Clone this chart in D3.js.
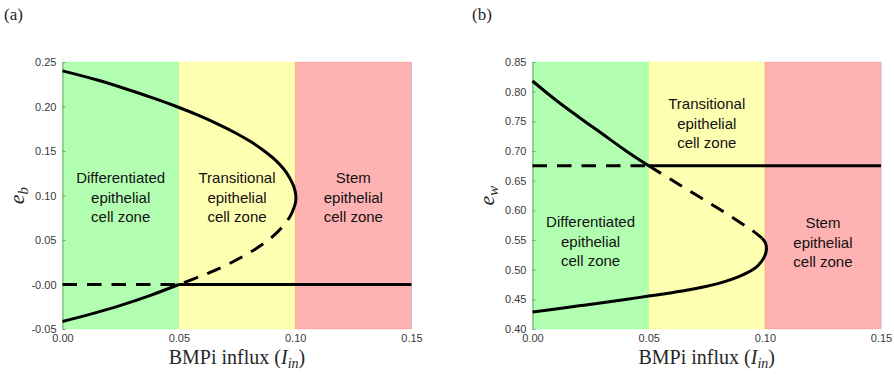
<!DOCTYPE html>
<html>
<head>
<meta charset="utf-8">
<script src="https://cdn.jsdelivr.net/npm/d3@7"></script>
<style>
  html, body { margin: 0; padding: 0; background: #fff; }
  svg { display: block; }
</style>
</head>
<body>
<script>
// BMPi influx values bounding the three cell zones
const zoneBounds = [0, 0.05, 0.10, 0.15];
const zoneNames = [
  ["Differentiated", "epithelial", "cell zone"],
  ["Transitional", "epithelial", "cell zone"],
  ["Stem", "epithelial", "cell zone"]
];

// shared x axis
const influxTicks = [0, 0.05, 0.10, 0.15];
const influxTickLabels = ["0.00", "0.05", "0.10", "0.15"];

// panel (a): e_b steady states, points are [I_in, e_b]
const ebTicks = [-0.05, 0, 0.05, 0.10, 0.15, 0.20, 0.25];
const ebTickLabels = ["-0.05", "-0.00", "0.05", "0.10", "0.15", "0.20", "0.25"];
const ebUpperStable = [[0, 0.240], [0.0146, 0.230], [0.027, 0.220], [0.0385, 0.210], [0.049, 0.200],
  [0.0585, 0.190], [0.067, 0.180], [0.0746, 0.170], [0.0812, 0.160], [0.0867, 0.150],
  [0.0914, 0.140], [0.095, 0.130], [0.0976, 0.120], [0.0994, 0.110], [0.1003, 0.100],
  [0.1002, 0.093], [0.0996, 0.087]];
const ebUnstable = [[0.0996, 0.087], [0.0985, 0.080], [0.0962, 0.070], [0.0928, 0.060], [0.0885, 0.050],
  [0.0830, 0.040], [0.0765, 0.030], [0.0690, 0.020], [0.0600, 0.010], [0.0500, 0.000]];
const ebLowerStable = [[0.05, 0.000], [0.0375, -0.0125], [0.025, -0.0235], [0.0125, -0.033], [0, -0.0415]];
const ebTrivialUnstable = [[0, 0], [0.05, 0]];
const ebTrivialStable = [[0.05, 0], [0.15, 0]];

// panel (b): e_w steady states, points are [I_in, e_w]
const ewTicks = [0.40, 0.45, 0.50, 0.55, 0.60, 0.65, 0.70, 0.75, 0.80, 0.85];
const ewTickLabels = ["0.40", "0.45", "0.50", "0.55", "0.60", "0.65", "0.70", "0.75", "0.80", "0.85"];
const ewUpperStable = [[0, 0.818], [0.01, 0.786], [0.02, 0.757], [0.03, 0.729], [0.04, 0.701], [0.05, 0.675]];
const ewUnstable = [[0.05, 0.675], [0.06, 0.651], [0.07, 0.627], [0.08, 0.603], [0.09, 0.578],
  [0.095, 0.565], [0.0988, 0.553]];
const ewLowerStable = [[0.0988, 0.553], [0.1003, 0.545], [0.1007, 0.535], [0.1002, 0.525], [0.0986, 0.514],
  [0.0962, 0.504], [0.0925, 0.495], [0.088, 0.487], [0.082, 0.479], [0.075, 0.472], [0.0675, 0.466],
  [0.06, 0.4612], [0.05, 0.4555], [0.04, 0.4497], [0.03, 0.4442], [0.02, 0.4390], [0.01, 0.4338],
  [0, 0.4285]];
const ewTrivialUnstable = [[0, 0.675], [0.05, 0.675]];
const ewTrivialStable = [[0.05, 0.675], [0.15, 0.675]];

const zoneColors = ["#00ff00", "#ffff00", "#ff0000"];
const sansFont = "'Liberation Sans', Arial, sans-serif";
const serifFont = "'Liberation Serif', 'Times New Roman', serif";

const svg = d3.select("body").append("svg")
  .attr("width", 894).attr("height", 375);

function drawPanel(cfg) {
  const g = svg.append("g");
  const x = d3.scaleLinear().domain([0, 0.15]).range([cfg.left, cfg.right]);
  const y = d3.scaleLinear().domain(cfg.yDomain).range([cfg.bottom, cfg.top]);

  // y axis: ticks point inwards
  const yAxis = g.append("g")
    .attr("transform", `translate(${cfg.left},0)`)
    .call(d3.axisLeft(y).tickValues(cfg.yTicks)
      .tickFormat((d, i) => cfg.yTickLabels[i])
      .tickSizeInner(-3).tickSizeOuter(0).tickPadding(6));
  yAxis.select(".domain").attr("stroke", "#8c8c8c");
  yAxis.selectAll(".tick line").attr("stroke", "#8c8c8c");
  yAxis.selectAll("text").attr("font-family", sansFont).attr("font-size", 11).attr("fill", "#3a3a3a");

  // x axis: labels only
  const xAxis = g.append("g")
    .attr("transform", `translate(0,${cfg.bottom})`)
    .call(d3.axisBottom(x).tickValues(influxTicks)
      .tickFormat((d, i) => influxTickLabels[i])
      .tickSize(0).tickPadding(5));
  xAxis.select(".domain").remove();
  xAxis.selectAll("text").attr("font-family", sansFont).attr("font-size", 11).attr("fill", "#3a3a3a");

  // translucent zone patches
  const zones = d3.range(zoneBounds.length - 1);
  g.selectAll("rect.zone").data(zones).join("rect")
    .attr("class", "zone")
    .attr("x", i => x(zoneBounds[i]))
    .attr("y", cfg.top)
    .attr("width", i => x(zoneBounds[i + 1]) - x(zoneBounds[i]))
    .attr("height", cfg.bottom - cfg.top)
    .attr("fill", i => zoneColors[i])
    .attr("fill-opacity", 0.3)
    .attr("stroke", i => zoneColors[i])
    .attr("stroke-opacity", 0.12)
    .attr("stroke-width", 1);
  g.append("line")
    .attr("x1", x(0.15)).attr("x2", x(0.15))
    .attr("y1", cfg.top).attr("y2", cfg.bottom)
    .attr("stroke", "#dcb6e4").attr("stroke-width", 1);

  // zone captions
  zones.forEach(i => {
    const t = g.append("text")
      .attr("font-family", sansFont).attr("font-size", 15).attr("fill", "#111")
      .attr("text-anchor", "middle");
    zoneNames[i].forEach((line, k) => {
      t.append("tspan")
        .attr("x", (x(zoneBounds[i]) + x(zoneBounds[i + 1])) / 2)
        .attr("y", cfg.captionY[i] + k * 19.3)
        .attr("dy", "0.35em")
        .text(line);
    });
  });

  // steady-state branches
  const line = d3.line().x(d => x(d[0])).y(d => y(d[1])).curve(d3.curveCatmullRom.alpha(0.5));
  cfg.branches.forEach(b => {
    g.append("path")
      .attr("d", line(b.points))
      .attr("fill", "none")
      .attr("stroke", "#000")
      .attr("stroke-width", 3)
      .attr("stroke-dasharray", b.dashed ? "14.5,10" : null);
  });

  // axis titles
  const xl = g.append("text")
    .attr("x", (cfg.left + cfg.right) / 2).attr("y", 364)
    .attr("text-anchor", "middle")
    .attr("font-family", serifFont).attr("font-size", 20).attr("fill", "#262626");
  xl.append("tspan").text("BMPi influx (");
  xl.append("tspan").attr("font-style", "italic").text("I");
  xl.append("tspan").attr("font-style", "italic").attr("font-size", 14).attr("dy", 4).text("in");
  xl.append("tspan").attr("dy", -4).text(")");

  const yl = g.append("text")
    .attr("transform", `translate(${cfg.yLabelX},${(cfg.top + cfg.bottom) / 2}) rotate(-90)`)
    .attr("text-anchor", "middle")
    .attr("font-family", serifFont).attr("font-size", 22).attr("fill", "#262626");
  yl.append("tspan").attr("font-style", "italic").text("e");
  yl.append("tspan").attr("font-style", "italic").attr("font-size", 15).attr("dy", 4).text(cfg.ySub);

  g.append("text")
    .attr("x", cfg.tagX).attr("y", 20)
    .attr("font-family", serifFont).attr("font-size", 17).attr("fill", "#262626")
    .text(cfg.tag);
}

drawPanel({
  left: 62.5, right: 411.5, top: 62, bottom: 329,
  yDomain: [-0.05, 0.25], yTicks: ebTicks, yTickLabels: ebTickLabels,
  captionY: [178, 178, 178],
  yLabelX: 24, ySub: "b", tag: "(a)", tagX: 4,
  branches: [
    { points: ebUpperStable, dashed: false },
    { points: ebUnstable, dashed: true },
    { points: ebLowerStable, dashed: false },
    { points: ebTrivialUnstable, dashed: true },
    { points: ebTrivialStable, dashed: false }
  ]
});

drawPanel({
  left: 532.5, right: 881, top: 62, bottom: 329,
  yDomain: [0.40, 0.85], yTicks: ewTicks, yTickLabels: ewTickLabels,
  captionY: [222, 104, 223],
  yLabelX: 494, ySub: "w", tag: "(b)", tagX: 472,
  branches: [
    { points: ewUpperStable, dashed: false },
    { points: ewUnstable, dashed: true },
    { points: ewLowerStable, dashed: false },
    { points: ewTrivialUnstable, dashed: true },
    { points: ewTrivialStable, dashed: false }
  ]
});
</script>
</body>
</html>
